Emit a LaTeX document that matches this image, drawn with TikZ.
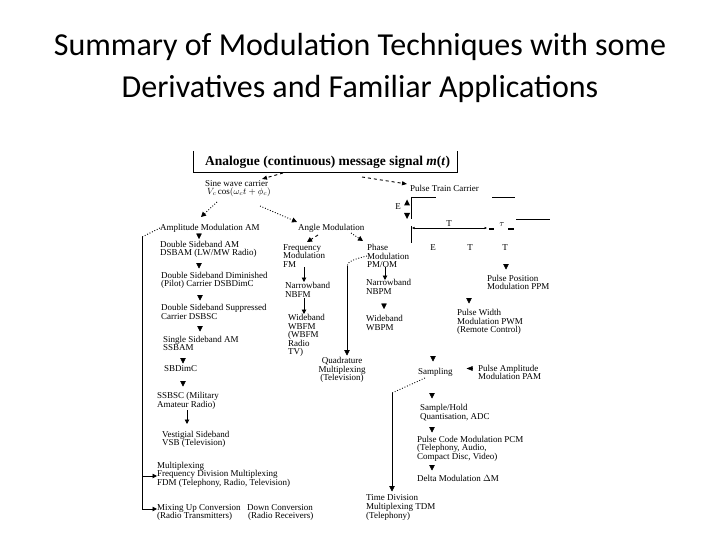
\documentclass[tikz,border=0pt]{standalone}
\usepackage{fontspec}
\setmainfont{Liberation Serif}
\newfontfamily\titlefont{Carlito}
\usetikzlibrary{arrows.meta}
\begin{document}
\begin{tikzpicture}[x=1pt,y=-1pt,
  txt/.style={font=\fontsize{9}{8.6}\selectfont, inner sep=0pt, anchor=west, align=left},
  ttl/.style={font=\titlefont\fontsize{32}{36}\selectfont, inner sep=0pt, anchor=base},
  tri/.style={-{Triangle[length=5.5pt,width=5.5pt]}, line width=0.4pt},
  stemarr/.style={-{Triangle[length=4.5pt,width=4.5pt]}, line width=0.9pt},
  dotl/.style={line width=0.9pt, dash pattern=on 0.9pt off 1.8pt},
  dashl/.style={line width=0.9pt, dash pattern=on 3pt off 3pt},
  pline/.style={line width=0.8pt}
]
\useasboundingbox (0,0) rectangle (720,540);
\fill[white] (0,0) rectangle (720,540);

% title
\node[ttl] (t1) at (360,56) {Summary of Modulation Techniques with some};
\node[ttl] (t2) at (360,98) {Derivatives and Familiar Applications};

% header box
\node[font=\fontsize{13.5}{14}\selectfont\bfseries, inner sep=0pt, anchor=west] (hdr) at (205,162)
  {Analogue (continuous) message signal \textit{m}(\textit{t})};
\draw[line width=0.7pt] (193,151) -- (193,172) -- (457,172) -- (457,151);

% carriers
\node[txt] (sine) at (205,188.5) {Sine wave carrier\\\hspace*{2pt}$V_c\cos(\omega_c t+\phi_c)$};
\node[txt] (ptc) at (410,188) {Pulse Train Carrier};
\draw[dashl,-{Triangle[length=5pt,width=4pt]}] (283,173) -- (262,179);
\draw[dashl,-{Triangle[length=5pt,width=4pt]}] (362,177) -- (407,184);

% first level
\node[txt] (am) at (160,228) {Amplitude Modulation AM};
\node[txt] (angle) at (298,228) {Angle Modulation};
\draw[dotl,-{Triangle[length=5pt,width=5pt]}] (217,202) -- (201,217);
\draw[dotl,-{Triangle[length=5pt,width=5pt]}] (260,206) -- (297,222);

% AM column
\node[txt] (dsb) at (160,249.5) {Double Sideband AM\\DSBAM (LW/MW Radio)};
\node[txt] (dsbdim) at (161,280.5) {Double Sideband Diminished\\(Pilot) Carrier DSBDimC};
\node[txt] (dsbsc) at (161,312) {Double Sideband Suppressed\\Carrier DSBSC};
\node[txt] (ssb) at (163,343.5) {Single Sideband AM\\SSBAM};
\node[txt] (sbdim) at (164,369) {SBDimC};
\node[txt] (ssbsc) at (157,401) {SSBSC (Military\\Amateur Radio)};
\node[txt] (vsb) at (162,439.5) {Vestigial Sideband\\VSB (Television)};
\node[txt] (mux) at (157,474.5) {Multiplexing\\Frequency Division Multiplexing\\FDM (Telephony, Radio, Television)};
\node[txt] (mixup) at (157,512.5) {Mixing Up Conversion\\(Radio Transmitters)};
\node[txt] (mixdown) at (247,512.5) {Down Conversion\\\hspace*{1pt}(Radio Receivers)};

\draw[tri] (199,233.5) -- (199,239);
\draw[tri] (199,263) -- (199,268.5);
\draw[tri] (200,295) -- (200,300.5);
\draw[tri] (200,326) -- (200,331.5);
\draw[tri] (183,358) -- (183,363.5);
\draw[tri] (183,381) -- (183,386.5);
\draw[stemarr] (187,410) -- (187,424);

% left feeder line
\draw[dotl] (am.west) -- (142,237);
\draw[line width=0.8pt] (142,237) -- (142,509);
\draw[stemarr] (142,476) -- (mux.west |- 0,476);
\draw[stemarr] (142,509) -- (mixup.west |- 0,509);

% FM column
\node[txt] (fm) at (283,256) {Frequency\\Modulation\\FM};
\node[txt] (nbfm) at (285,290) {Narrowband\\NBFM};
\node[txt] (wbfm) at (288,335.5) {Wideband\\WBFM\\(WBFM\\Radio\\TV)};
\draw[dashl,-{Triangle[length=5pt,width=5pt]}] (318,235) -- (307,242);
\draw[stemarr] (304,267) -- (304,282);
\draw[stemarr] (304,298) -- (304,314);

% PM column
\node[txt] (pm) at (367,256) {Phase\\Modulation\\PM/OM};
\node[txt] (nbpm) at (366,287) {Narrowband\\NBPM};
\node[txt] (wbpm) at (366,323) {Wideband\\WBPM};
\draw[dotl,-{Triangle[length=5pt,width=5pt]}] (351,233) -- (363,241);
\draw[stemarr] (385,267) -- (385,280);
\draw[tri] (384,303.5) -- (384,309);

% quadrature
\node[font=\fontsize{9}{8.6}\selectfont, inner sep=0pt, align=center] (quad) at (342,370) {Quadrature\\Multiplexing\\(Television)};
\draw[dotl] (pm.west) .. controls (355,259) and (348,261) .. (347,266);
\draw[line width=0.8pt] (347,266) -- (347,350);
\draw[tri] (347,350) -- (347,355.5);

% pulse train sketch
\draw[pline] (411,197) -- (436,197);
\draw[pline] (411,197) -- (411,219);
\draw[pline] (411,226) -- (411,243);
\draw[pline] (492,197) -- (515,197);
\draw[pline] (516,219) -- (550,219);
\draw[line width=0.7pt,{Latex[length=2.5pt,width=2.5pt]}-{Latex[length=2.5pt,width=2.5pt]}] (412,228) -- (487,228);
\draw[line width=2pt] (489,229) -- (494,229);
\draw[line width=2pt] (508,229) -- (514,229);
\node[txt,anchor=center] (Tl) at (449,224) {T};
\node[txt,anchor=center] (taul) at (502,225) {$\tau$};
\node[txt,anchor=center] (El) at (398,207) {E};
\fill (404,205.5) -- (410,205.5) -- (407,199.5) -- cycle;
\fill (404,213) -- (410,213) -- (407,219) -- cycle;
\node[txt,anchor=center] (b1) at (433,248) {E};
\node[txt,anchor=center] (b2) at (470,248) {T};
\node[txt,anchor=center] (b3) at (505,248) {T};

% pulse modulations
\node[txt] (ppm) at (487,282.5) {Pulse Position\\Modulation PPM};
\node[txt] (pwm) at (457,322) {Pulse Width\\Modulation PWM\\(Remote Control)};
\node[txt] (samp) at (418,372) {Sampling};
\node[txt] (pam) at (478,372.5) {Pulse Amplitude\\Modulation PAM};
\draw[tri] (506,264) -- (506,269.5);
\draw[tri] (469,298) -- (469,303.5);
\draw[tri] (433,356) -- (433,361.5);
\draw[-{Triangle[length=6pt,width=4.5pt]}, line width=0.4pt] (472.5,368.5) -- (466.5,368.5);

% sampling branch
\draw[dotl] (425,378) -- (392,393);
\draw[line width=0.8pt] (392,393) -- (392,486);
\draw[tri] (392,486) -- (392,491.5);
\node[txt] (tdm) at (366,507.5) {Time Division\\Multiplexing TDM\\(Telephony)};

\node[txt] (sh) at (420,412.5) {Sample/Hold\\Quantisation, ADC};
\node[txt] (pcm) at (417,448.5) {Pulse Code Modulation PCM\\(Telephony, Audio,\\Compact Disc, Video)};
\node[txt] (delta) at (417,478) {Delta Modulation $\Delta$M};
\draw[tri] (432,393) -- (432,398.5);
\draw[tri] (432,427) -- (432,432.5);
\draw[tri] (432,465) -- (432,470.5);
\end{tikzpicture}
\end{document}
